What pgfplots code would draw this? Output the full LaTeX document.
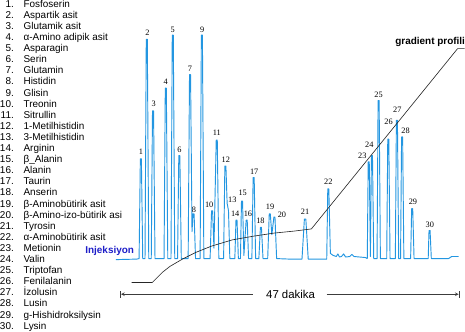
\documentclass[border=0pt]{standalone}
\usepackage{pgfplots}
\pgfplotsset{compat=1.18}
\usepackage{fontspec}
\setmainfont{Liberation Serif}
\newfontfamily\arial{Liberation Sans}
\definecolor{chrom}{RGB}{35,150,225}
\definecolor{injblue}{RGB}{30,30,200}
\definecolor{dimgray}{RGB}{60,60,60}
\begin{document}
\begin{tikzpicture}
\begin{axis}[
  scale only axis, width=465bp, height=334bp,
  xmin=0, xmax=465, ymin=0, ymax=334, y dir=reverse,
  axis lines=none, clip=false,
]
% chromatogram
\addplot[chrom, line width=0.9pt, line join=round] coordinates {
(118,259)(138,258.5)
(140.3,258)(141.5,162)(142.5,162)(143.8,258)
(146,258)(147.2,47)(148.2,47)(149.6,258)
(152,258)(153.2,116)(154.2,116)(155.6,258)
(164.3,258)(165.5,94)(166.5,94)(167.9,258)
(171,258)(172.2,43)(173.2,43)(174.6,258)
(177.3,258)(178.5,159)(179.5,159)(180.9,258)
(187.5,258)(188.8,81)(189.8,81)(191.2,232)
(192.2,215)(193.2,215)(194.6,258)
(199,258)(200.2,43)(201.2,43)(202.6,258)
(208.6,258)(210,212)(211,212)(212.3,248)
(214.5,144)(215.5,144)(217,258)
(221.6,258)(222.8,169)(223.8,169)(225,205)
(225.6,208)(226.3,212)(227.6,258)
(232.4,258)(233.5,221)(234.5,221)(235.8,258)
(237.8,258)(238.8,202.7)(239.8,202.7)(241.1,255)
(243.3,221)(244.3,221)(245.6,258)
(248.8,258)(250,180)(251,180)(252.4,258)
(255.5,258)(257,228)(258,228)(259.5,258)
(264,258)(265.5,215)(266.5,215)(268,235)
(270,218)(271,218)(272.6,258)
(285,258.5)
(297,258.5)(299.3,220)(300.7,220)(303,258.5)
(315,258.5)
(320.8,258.5)(321.8,191)(322.8,191)(324.3,253)
(327,255)(330,256)(331.5,253.5)(333,256.5)(335,256)(337,253.5)(339,256.5)(343,256)(345,254)(347,256)(358,257)
(359.8,258)(360.7,165)(361.7,165)(362.8,256)
(363.8,159)(364.8,159)(366,258)
(369.2,258)(370.2,106)(371.2,106)(372.4,258)
(378.5,258)(379.5,143)(380.5,143)(381.7,258)
(386.8,258)(387.8,125)(388.8,125)(390,258)
(391.8,258)(392.8,141)(393.8,141)(395,258)
(400,258)
(401.5,258)(402.5,210)(403.5,210)(404.8,258)
(417,258)
(418.4,258)(419.2,231)(420.2,231)(421.4,258)
(438,258)(441,256)(447.7,256)
};
% gradient profile
\addplot[black!85, line width=0.6pt] coordinates {
(133,281)(153,281)(158,276)(163,271)(170,265.5)(182,258.5)(195,252)(210,246)(230,240)(250,236.5)(270,233.5)(290,231.5)(306,229.5)(446.7,56)(453.5,56)
};
% dimension line
\addplot[dimgray, line width=0.6pt, |<-, >=stealth] coordinates {(122.3,292.3)(250,292.3)};
\addplot[dimgray, line width=0.6pt, ->|, >=stealth] coordinates {(320.7,292.3)(448.3,292.3)};
\node[font=\arial\fontsize{11}{12}\selectfont, inner sep=0pt] at (axis cs:286,292.3) {47 dakika};
\node[font=\arial\bfseries\fontsize{9.6}{11}\selectfont, inner sep=0pt, anchor=base east] at (axis cs:454,52) {gradient profili};
\node[font=\arial\bfseries\fontsize{9.6}{11}\selectfont, text=injblue, inner sep=0pt, anchor=base] at (axis cs:112,253.5) {Injeksiyon};
% peak labels
\foreach \px/\py/\lab in {
 142/155/1,148.3/41/2,154.3/109.3/3,166/88.3/4,172.7/38.3/5,179/153.3/6,
 189.3/75/7,193/211/8,201/38.3/9,207.7/206/10,215/137/11,223.7/162.7/12,
 230/201.7/13,232.7/215/14,240/195/15,245/215/16,251/174/17,257/222/18,
 266.3/208.3/19,277.7/216/20,300/213/21,322.3/184/22,355/159/23,361.7/148/24,
 370.7/100/25,380.3/126/26,388.7/115/27,396.7/135/28,403.7/203/29,420/225/30}{
  \pgfmathsetmacro\yb{\py+2.7}
  \edef\temp{\noexpand\node[font=\noexpand\fontsize{8}{9}\noexpand\selectfont, inner sep=0pt, anchor=base] at (axis cs:\px,\yb) {\lab};}
  \temp
}
% legend list
\foreach \i/\name in {
 1/Fosfoserin, 2/Aspartik asit, 3/Glutamik asit, 4/α-Amino adipik asit, 5/Asparagin,
 6/Serin, 7/Glutamin, 8/Histidin, 9/Glisin, 10/Treonin, 11/Sitrullin, 12/1-Metilhistidin,
 13/3-Metilhistidin, 14/Arginin, 15/β\_Alanin, 16/Alanin, 17/Taurin, 18/Anserin,
 19/β-Aminobütirik asit, 20/β-Amino-izo-bütirik asi, 21/Tyrosin, 22/α-Aminobütirik asit,
 23/Metionin, 24/Valin, 25/Triptofan, 26/Fenilalanin, 27/İzolusin, 28/Lusin,
 29/g-Hishidroksilysin, 30/Lysin}{
  \pgfmathsetmacro\yy{12.8+(\i-1)*10.68+3.4}
  \edef\temp{\noexpand\node[font=\noexpand\arial\noexpand\fontsize{9.6}{11}\noexpand\selectfont, inner sep=0pt, anchor=base east] at (axis cs:20,\yy) {\i.};
   \noexpand\node[font=\noexpand\arial\noexpand\fontsize{9.6}{11}\noexpand\selectfont, inner sep=0pt, anchor=base west] at (axis cs:29,\yy) {\unexpanded\expandafter{\name}};}
  \temp
}
\end{axis}
\end{tikzpicture}
\end{document}
